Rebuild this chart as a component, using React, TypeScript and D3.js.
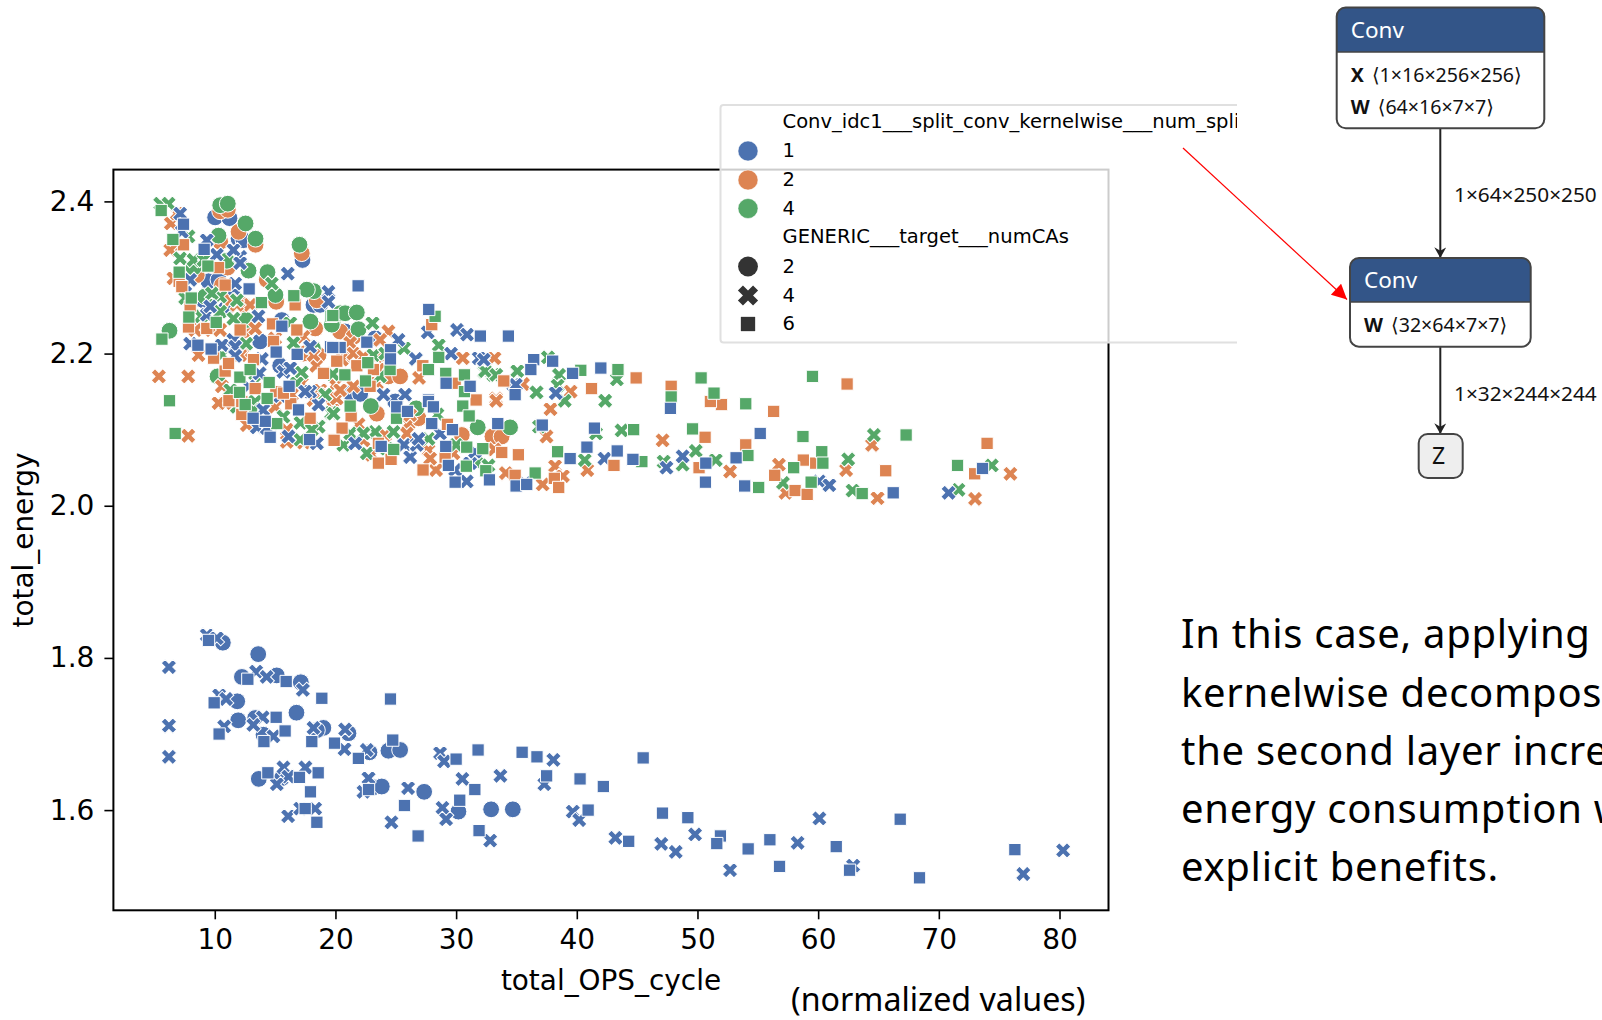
import React, { useEffect, useRef } from 'react';
import * as d3 from 'd3';

type Pt = [number, number];

const xTicks = [10, 20, 30, 40, 50, 60, 70, 80];
const yTicks = [1.6, 1.8, 2.0, 2.2, 2.4];
const colors = { blue: '#4C72B0', orange: '#DD8452', green: '#55A868' };

// numCAs = 2
const blueCircles: Pt[] = [
  [10.67, 1.82], [13.6, 1.805], [12.25, 1.775], [15.14, 1.777], [17.13, 1.768], [11.86, 1.743], [11.94, 1.718], [13.35, 1.721],
  [16.77, 1.728], [19.0, 1.708], [18.46, 1.705], [21.08, 1.701], [14.04, 1.699], [13.65, 1.641], [15.56, 1.642], [22.82, 1.676],
  [24.39, 1.678], [25.36, 1.679], [23.15, 1.63], [23.84, 1.631], [27.35, 1.624], [30.19, 1.598], [32.9, 1.601], [34.7, 1.601],
  [10.03, 2.379], [11.22, 2.378], [11.97, 2.351], [17.27, 2.323], [9.48, 2.295], [10.31, 2.297], [11.55, 2.275], [10.92, 2.259],
  [12.38, 2.349], [18.18, 2.264], [18.73, 2.264], [13.76, 2.216], [15.56, 2.244], [9.07, 2.27], [15.42, 2.184], [20.8, 2.229],
  [21.22, 2.148], [22.1, 2.147], [23.29, 2.22], [22.05, 2.147], [24.95, 2.137],
];
const orangeCircles: Pt[] = [
  [10.45, 2.387], [11.08, 2.389], [11.97, 2.36], [10.45, 2.347], [13.38, 2.343], [11.06, 2.313], [17.21, 2.332], [12.52, 2.231],
  [15.09, 2.268], [18.46, 2.27], [18.32, 2.233], [8.51, 2.303], [12.38, 2.264], [10.6, 2.29], [14.31, 2.297], [17.35, 2.2],
  [18.6, 2.198], [19.84, 2.139], [24.39, 2.17], [25.36, 2.17], [20.39, 2.229], [20.66, 2.195], [21.49, 2.222], [33.01, 2.091],
  [30.47, 2.093], [23.43, 2.121], [26.88, 2.115], [33.77, 2.091],
];
const greenCircles: Pt[] = [
  [10.45, 2.395], [11.08, 2.397], [12.55, 2.371], [10.31, 2.355], [13.38, 2.351], [11.0, 2.322], [12.8, 2.309], [14.37, 2.307],
  [17.02, 2.343], [18.21, 2.282], [17.63, 2.284], [8.24, 2.313], [9.2, 2.275], [12.6, 2.244], [15.03, 2.277], [17.93, 2.242],
  [19.78, 2.242], [20.39, 2.253], [6.25, 2.23], [10.23, 2.17], [18.13, 2.207], [20.8, 2.253], [21.91, 2.232], [21.77, 2.254],
  [19.7, 2.238], [22.93, 2.131], [26.69, 2.128], [31.79, 2.103], [34.47, 2.103],
];

// numCAs = 4
const blueCrosses: Pt[] = [
  [6.2, 1.788], [6.2, 1.711], [6.2, 1.67], [9.34, 1.83], [10.17, 1.826], [13.43, 1.782], [14.3, 1.775], [17.3, 1.758], [10.36, 1.751],
  [10.94, 1.746], [13.98, 1.722], [13.2, 1.712], [14.86, 1.697], [10.78, 1.71], [18.18, 1.708], [20.8, 1.706], [20.75, 1.68],
  [22.6, 1.679], [15.69, 1.656], [17.51, 1.656], [16.1, 1.644], [15.14, 1.634], [16.08, 1.592], [17.08, 1.602], [18.32, 1.602],
  [22.74, 1.642], [22.32, 1.624], [26.02, 1.629], [24.64, 1.584], [28.67, 1.675], [29.0, 1.664], [30.52, 1.641], [33.67, 1.645],
  [28.87, 1.603], [29.17, 1.588], [32.82, 1.56], [38.06, 1.666], [37.31, 1.634], [39.67, 1.598], [40.2, 1.587], [43.2, 1.5635],
  [47.0, 1.5556], [48.2, 1.545], [49.8, 1.568], [52.7, 1.521], [58.3, 1.557], [60.1, 1.589], [62.9, 1.527], [77.0, 1.516], [80.3, 1.547],
  [16.05, 2.305], [11.69, 2.292], [13.62, 2.249], [9.34, 2.349], [7.13, 2.384], [12.1, 2.327], [9.34, 2.251], [7.55, 2.29], [19.42, 2.281],
  [11.55, 2.218], [10.59, 2.211], [13.9, 2.193], [13.71, 2.174], [18.6, 2.133], [14.01, 2.126], [17.9, 2.15], [11.69, 2.198], [12.8, 2.157],
  [13.49, 2.103], [26.66, 2.193], [27.65, 2.228], [30.08, 2.231], [30.91, 2.225], [31.88, 2.194], [29.58, 2.2], [25.77, 2.146], [23.98, 2.146],
  [25.22, 2.218], [34.75, 2.159], [25.69, 2.08], [21.63, 2.082], [26.19, 2.064], [26.74, 2.08], [30.88, 2.032], [29.92, 2.047],
  [34.95, 2.159], [38.26, 2.148], [32.29, 2.192], [35.69, 2.03], [42.29, 2.062], [47.43, 2.05], [48.77, 2.065], [60.1, 2.032], [60.93, 2.027], [70.81, 2.017],
  [7.96, 2.297], [10.17, 2.33], [11.55, 2.336], [12.1, 2.319], [7.27, 2.36], [9.62, 2.262], [7.96, 2.213], [19.42, 2.268], [11.69, 2.209], [11.69, 2.197],
  [15.69, 2.176], [17.9, 2.209], [16.11, 2.091], [18.46, 2.082], [17.49, 2.15], [16.25, 2.181], [15.42, 2.144], [14.31, 2.102], [26.88, 2.088], [28.67, 2.095],
  [31.16, 2.056], [31.57, 2.071],
];
const orangeCrosses: Pt[] = [
  [5.37, 2.17], [7.8, 2.17], [7.8, 2.092], [10.83, 2.135], [10.31, 2.135], [18.4, 2.184], [15.0, 2.13], [12.66, 2.106], [15.97, 2.1], [15.97, 2.084],
  [17.21, 2.161], [8.65, 2.198], [12.38, 2.2], [17.35, 2.083], [6.36, 2.371], [7.13, 2.343], [6.86, 2.384], [8.79, 2.235], [24.39, 2.229], [20.53, 2.192],
  [26.93, 2.168], [30.55, 2.194], [33.12, 2.194], [35.5, 2.159], [33.31, 2.141], [23.7, 2.218], [33.31, 2.138], [21.91, 2.107], [23.01, 2.067], [27.71, 2.073],
  [28.34, 2.047], [34.11, 2.042], [26.05, 2.108], [33.13, 2.073], [24.12, 2.093], [19.84, 2.139], [33.32, 2.138], [37.82, 2.127], [35.54, 2.16], [39.48, 2.15],
  [33.17, 2.194], [47.11, 2.086], [37.49, 2.091], [33.17, 2.074], [34.12, 2.043], [38.2, 2.052], [37.17, 2.028], [40.87, 2.047], [56.75, 2.054], [52.7, 2.045],
  [64.47, 2.08], [62.32, 2.047], [64.92, 2.01], [73.0, 2.009], [75.93, 2.042], [57.29, 2.017], [38.85, 2.039],
  [6.31, 2.336], [8.38, 2.231], [9.76, 2.231], [10.45, 2.231], [12.93, 2.264], [11.83, 2.264], [13.35, 2.233], [15.0, 2.22], [17.35, 2.222], [6.58, 2.299],
  [11.28, 2.27], [10.59, 2.157], [12.1, 2.198], [18.18, 2.198], [18.73, 2.152], [16.39, 2.146], [19.29, 2.146], [20.11, 2.141], [18.18, 2.139], [23.43, 2.196],
  [21.22, 2.214], [21.49, 2.2], [22.32, 2.196], [23.56, 2.179], [23.43, 2.161], [21.49, 2.157], [19.97, 2.159], [20.39, 2.152], [22.32, 2.086], [25.91, 2.095],
  [26.19, 2.119], [27.85, 2.062], [29.78, 2.069],
];
const greenCrosses: Pt[] = [
  [12.6, 2.213], [16.52, 2.214], [17.21, 2.175], [19.75, 2.173], [19.64, 2.122], [17.1, 2.109], [18.6, 2.104], [13.2, 2.135], [10.45, 2.2], [7.82, 2.354],
  [7.13, 2.325], [14.73, 2.292], [8.87, 2.249], [5.48, 2.397], [6.17, 2.397], [23.07, 2.24], [23.15, 2.198], [25.69, 2.207], [28.56, 2.211], [32.32, 2.176],
  [35.03, 2.176], [19.78, 2.173], [33.09, 2.172], [28.45, 2.12], [23.29, 2.097], [20.66, 2.08], [27.71, 2.088], [30.0, 2.08], [31.71, 2.056], [32.68, 2.053],
  [19.84, 2.121], [32.4, 2.177], [35.07, 2.177], [37.61, 2.195], [38.53, 2.172], [33.32, 2.172], [36.66, 2.149], [39.0, 2.138], [42.35, 2.138], [38.41, 2.158],
  [36.87, 2.104], [43.71, 2.099], [40.66, 2.06], [47.2, 2.058], [48.77, 2.054], [49.86, 2.072], [51.52, 2.06], [57.08, 2.03], [62.49, 2.061], [64.62, 2.093],
  [62.85, 2.02], [71.63, 2.021], [74.39, 2.053], [41.6, 2.095], [43.32, 2.166],
  [8.24, 2.323], [9.07, 2.323], [10.45, 2.275], [9.76, 2.279], [7.55, 2.273], [10.45, 2.255], [11.55, 2.246], [16.25, 2.24], [11.83, 2.27], [11.28, 2.152],
  [13.35, 2.137], [13.21, 2.126], [14.73, 2.108], [11.83, 2.13], [15.69, 2.117], [18.04, 2.1], [13.35, 2.163], [16.8, 2.161], [19.15, 2.146], [17.08, 2.087],
  [10.59, 2.198], [24.12, 2.2], [23.7, 2.17], [22.6, 2.069], [24.25, 2.075], [24.81, 2.097], [21.22, 2.095], [22.32, 2.095],
];

// numCAs = 6
const blueSquares: Pt[] = [
  [9.48, 1.823], [12.74, 1.772], [15.92, 1.769], [18.87, 1.747], [24.56, 1.746], [9.95, 1.741], [15.09, 1.722], [15.83, 1.704], [10.36, 1.7], [14.07, 1.69],
  [18.04, 1.69], [19.92, 1.688], [24.75, 1.692], [21.9, 1.668], [14.4, 1.649], [17.02, 1.643], [18.57, 1.649], [17.93, 1.624], [17.49, 1.602], [18.46, 1.584],
  [22.74, 1.627], [25.72, 1.606], [26.85, 1.566], [30.0, 1.667], [31.82, 1.679], [35.47, 1.676], [36.7, 1.67], [37.5, 1.645], [40.27, 1.641], [31.55, 1.627],
  [30.3, 1.613], [31.9, 1.573], [40.94, 1.6], [42.2, 1.631], [45.5, 1.6686], [47.1, 1.596], [49.2, 1.59], [51.9, 1.566], [51.6, 1.556], [44.3, 1.559], [54.2, 1.549],
  [56.0, 1.561], [56.8, 1.526], [61.5, 1.552], [62.6, 1.521], [66.8, 1.588], [68.4, 1.511], [76.3, 1.548],
  [7.41, 2.37], [9.12, 2.337], [12.85, 2.285], [15.56, 2.236], [8.6, 2.211], [9.7, 2.206], [15.09, 2.202], [16.83, 2.199], [19.59, 2.209], [16.16, 2.157],
  [16.94, 2.126], [14.18, 2.111], [13.18, 2.115], [14.59, 2.09], [17.85, 2.087], [21.88, 2.289], [27.73, 2.258], [32.01, 2.223], [34.33, 2.223], [22.6, 2.215],
  [24.56, 2.205], [24.56, 2.193], [20.39, 2.208], [19.78, 2.208], [29.17, 2.161], [31.16, 2.157], [27.71, 2.139], [34.89, 2.146], [25.08, 2.13], [25.97, 2.124],
  [27.71, 2.137], [28.12, 2.13], [27.98, 2.108], [29.7, 2.1], [33.45, 2.108], [23.79, 2.078], [29.14, 2.078], [29.36, 2.053], [32.76, 2.034], [29.92, 2.031],
  [34.97, 2.026], [35.85, 2.028], [36.43, 2.192], [38.0, 2.19], [36.19, 2.179], [39.65, 2.174], [41.99, 2.181], [37.14, 2.106], [41.46, 2.102], [40.84, 2.077],
  [39.45, 2.062], [43.35, 2.072], [44.65, 2.061], [47.76, 2.128], [55.2, 2.095], [53.2, 2.063], [50.69, 2.056], [50.66, 2.031], [53.91, 2.026], [66.22, 2.017], [73.62, 2.049],
];
const orangeSquares: Pt[] = [
  [10.86, 2.177], [11.17, 2.138], [12.24, 2.137], [12.24, 2.12], [15.06, 2.15], [16.3, 2.134], [19.84, 2.087], [14.87, 2.216], [7.05, 2.295], [7.82, 2.235],
  [14.78, 2.239], [10.31, 2.313], [7.96, 2.262], [16.66, 2.264], [7.41, 2.343], [10.86, 2.29], [27.98, 2.238], [27.24, 2.184], [29.92, 2.161], [33.95, 2.164],
  [21.77, 2.184], [23.15, 2.179], [22.87, 2.157], [31.66, 2.139], [21.3, 2.118], [20.55, 2.102], [19.89, 2.086], [29.28, 2.107], [35.16, 2.067], [27.26, 2.047],
  [24.61, 2.061], [29.09, 2.064], [34.89, 2.04], [23.56, 2.082], [23.56, 2.056], [33.78, 2.07], [41.22, 2.154], [44.92, 2.168], [47.82, 2.157], [62.4, 2.16],
  [51.99, 2.133], [51.07, 2.137], [56.31, 2.124], [50.63, 2.09], [54.0, 2.08], [38.14, 2.036], [38.5, 2.024], [43.08, 2.053], [58.77, 2.06], [59.8, 2.056],
  [56.4, 2.04], [58.09, 2.02], [59.09, 2.015], [65.6, 2.046], [74.0, 2.082], [72.97, 2.042], [50.13, 2.05],
  [7.27, 2.288], [12.1, 2.231], [16.8, 2.231], [9.34, 2.233], [9.9, 2.194], [11.14, 2.187], [13.35, 2.154], [13.21, 2.192], [19.01, 2.174], [20.11, 2.19],
  [15.69, 2.148], [17.9, 2.115],
];
const greenSquares: Pt[] = [
  [5.56, 2.388], [6.53, 2.35], [7.05, 2.307], [8.05, 2.273], [7.85, 2.248], [9.43, 2.315], [10.12, 2.241], [13.87, 2.267], [16.55, 2.276], [19.64, 2.249],
  [5.62, 2.219], [6.25, 2.138], [6.72, 2.095], [12.08, 2.169], [12.05, 2.149], [14.51, 2.162], [14.34, 2.141], [15.14, 2.108], [12.93, 2.179], [12.52, 2.133],
  [28.26, 2.249], [28.56, 2.195], [22.68, 2.188], [20.78, 2.172], [22.49, 2.164], [29.14, 2.174], [30.69, 2.172], [30.69, 2.15], [19.78, 2.25], [27.71, 2.179],
  [24.53, 2.179], [21.22, 2.131], [25.06, 2.115], [30.55, 2.131], [31.08, 2.118], [30.88, 2.077], [32.21, 2.075], [24.83, 2.074], [30.85, 2.052], [32.46, 2.046],
  [40.33, 2.178], [43.41, 2.179], [50.3, 2.168], [59.53, 2.17], [47.82, 2.143], [51.37, 2.148], [54.0, 2.134], [44.71, 2.1], [49.59, 2.101], [58.74, 2.091],
  [67.29, 2.093], [38.41, 2.071], [45.39, 2.058], [54.18, 2.066], [60.3, 2.071], [71.55, 2.053], [36.55, 2.043], [57.97, 2.05], [55.07, 2.024], [63.65, 2.016], [59.42, 2.031], [60.39, 2.056],
];

const hueLabels = ['1', '2', '4'];
const styleLabels = ['2', '4', '6'];
const noteLines = ['In this case, applying', 'kernelwise decompos', 'the second layer incre', 'energy consumption w', 'explicit benefits.'];

const W = 1602;
const H = 1020;
const frame = { left: 113.4, right: 1108.5, top: 169.6, bottom: 910.3 };
const chartFont = '"DejaVu Sans", sans-serif';
const graphFont = '"Noto Sans", "DejaVu Sans", sans-serif';
const slideFont = '"Noto Sans", sans-serif';

const App = () => {
  const ref = useRef<SVGSVGElement>(null);

  useEffect(() => {
    const svg = d3.select(ref.current);
    svg.selectAll('*').remove();

    const x = d3.scaleLinear().domain([1.6, 84.06]).range([frame.left, frame.right]);
    const y = d3.scaleLinear().domain([1.4683, 2.4418]).range([frame.bottom, frame.top]);

    const circle = d3.symbol().type(d3.symbolCircle).size(222)();
    const cross = d3.symbol().type(d3.symbolCross).size(150)();
    const square = d3.symbol().type(d3.symbolSquare).size(152)();

    const plot = svg.append('g');

    const series: [Pt[], string, string, number][] = [
      [blueCircles, colors.blue, circle, 0],
      [orangeCircles, colors.orange, circle, 0],
      [greenCircles, colors.green, circle, 0],
      [orangeCrosses, colors.orange, cross, 45],
      [greenCrosses, colors.green, cross, 45],
      [blueCrosses, colors.blue, cross, 45],
      [orangeSquares, colors.orange, square, 0],
      [greenSquares, colors.green, square, 0],
      [blueSquares, colors.blue, square, 0],
    ];
    series.forEach(([pts, fill, d, rot]) => {
      plot.append('g')
        .selectAll('path')
        .data(pts)
        .join('path')
        .attr('d', d)
        .attr('transform', p => `translate(${x(p[0])},${y(p[1])}) rotate(${rot})`)
        .attr('fill', fill)
        .attr('stroke', '#fff')
        .attr('stroke-width', 1);
    });

    // frame + axes
    svg.append('rect')
      .attr('x', frame.left).attr('y', frame.top)
      .attr('width', frame.right - frame.left).attr('height', frame.bottom - frame.top)
      .attr('fill', 'none').attr('stroke', '#000').attr('stroke-width', 2);

    const xAxis = svg.append('g')
      .attr('transform', `translate(0,${frame.bottom})`)
      .call(d3.axisBottom(x).tickValues(xTicks).tickSize(9).tickPadding(10).tickFormat(d3.format('d')));
    const yAxis = svg.append('g')
      .attr('transform', `translate(${frame.left},0)`)
      .call(d3.axisLeft(y).tickValues(yTicks).tickSize(9).tickPadding(10).tickFormat(d3.format('.1f')));
    [xAxis, yAxis].forEach(a => {
      a.select('.domain').remove();
      a.selectAll('line').attr('stroke', '#000').attr('stroke-width', 1.6);
      a.selectAll('text').attr('font-family', chartFont).attr('font-size', 28).attr('fill', '#000');
    });

    svg.append('text').text('total_OPS_cycle')
      .attr('x', 611).attr('y', 990).attr('text-anchor', 'middle')
      .attr('font-family', chartFont).attr('font-size', 27.9);
    svg.append('text').text('total_energy')
      .attr('transform', 'translate(33,540) rotate(-90)').attr('text-anchor', 'middle')
      .attr('font-family', chartFont).attr('font-size', 27.9);

    // legend, cut off at the right edge of the pasted plot image
    svg.append('clipPath').attr('id', 'legend-clip')
      .append('rect').attr('x', 700).attr('y', 90).attr('width', 537).attr('height', 270);
    const legend = svg.append('g').attr('clip-path', 'url(#legend-clip)');
    legend.append('rect')
      .attr('x', 720.5).attr('y', 105).attr('width', 600).attr('height', 237.5).attr('rx', 3)
      .attr('fill', '#fff').attr('fill-opacity', 0.8)
      .attr('stroke', '#e0e0e0').attr('stroke-width', 2);

    const legendX = 748;
    const textX = 782.5;
    const legendText = (t: string, yy: number) => legend.append('text').text(t)
      .attr('x', textX).attr('y', yy + 6.3).attr('font-family', chartFont).attr('font-size', 19.55).attr('fill', '#000');

    legendText('Conv_idc1___split_conv_kernelwise___num_splits', 121.6);
    const hueRows = [151, 180, 208.5];
    const hueColors = [colors.blue, colors.orange, colors.green];
    hueLabels.forEach((t, i) => {
      legend.append('circle').attr('cx', legendX).attr('cy', hueRows[i]).attr('r', 10)
        .attr('fill', hueColors[i]).attr('stroke', '#fff').attr('stroke-width', 0.5);
      legendText(t, hueRows[i]);
    });
    legendText('GENERIC___target___numCAs', 237);
    const styleRows = [266.5, 295.5, 324];
    const stylePaths = [
      d3.symbol().type(d3.symbolCircle).size(310)(),
      d3.symbol().type(d3.symbolCross).size(255)(),
      d3.symbol().type(d3.symbolSquare).size(205)(),
    ];
    styleLabels.forEach((t, i) => {
      legend.append('path').attr('d', stylePaths[i])
        .attr('transform', `translate(${legendX},${styleRows[i]}) rotate(${i === 1 ? 45 : 0})`)
        .attr('fill', '#333');
      legendText(t, styleRows[i]);
    });

    // red pointer
    const defs = svg.append('defs');
    defs.append('marker').attr('id', 'red-head').attr('viewBox', '0 0 10 10')
      .attr('refX', 10).attr('refY', 5).attr('markerWidth', 18).attr('markerHeight', 15)
      .attr('markerUnits', 'userSpaceOnUse').attr('orient', 'auto')
      .append('path').attr('d', 'M0,0L10,5L0,10Z').attr('fill', '#f00');
    svg.append('line')
      .attr('x1', 1183).attr('y1', 148).attr('x2', 1347).attr('y2', 299.5)
      .attr('stroke', '#f00').attr('stroke-width', 1.2).attr('marker-end', 'url(#red-head)');

    // onnx graph on the right
    defs.append('marker').attr('id', 'black-head').attr('viewBox', '0 0 10 10')
      .attr('refX', 9).attr('refY', 5).attr('markerWidth', 12).attr('markerHeight', 12)
      .attr('markerUnits', 'userSpaceOnUse').attr('orient', 'auto')
      .append('path').attr('d', 'M0,0L9,5L0,10L3,5Z').attr('fill', '#222');

    const graphBox = (x0: number, x1: number, y0: number, yHead: number, y1: number, rows: [string, string, number][]) => {
      const r = 9;
      const g = svg.append('g');
      g.append('rect').attr('x', x0).attr('y', y0).attr('width', x1 - x0).attr('height', y1 - y0).attr('rx', r)
        .attr('fill', '#fff');
      g.append('path')
        .attr('d', `M${x0},${yHead}V${y0 + r}Q${x0},${y0} ${x0 + r},${y0}H${x1 - r}Q${x1},${y0} ${x1},${y0 + r}V${yHead}Z`)
        .attr('fill', '#335588');
      g.append('rect').attr('x', x0).attr('y', y0).attr('width', x1 - x0).attr('height', y1 - y0).attr('rx', r)
        .attr('fill', 'none').attr('stroke', '#444').attr('stroke-width', 2);
      g.append('line').attr('x1', x0).attr('x2', x1).attr('y1', yHead).attr('y2', yHead)
        .attr('stroke', '#444').attr('stroke-width', 1.4);
      g.append('text').text('Conv').attr('x', x0 + 14).attr('y', y0 + 30)
        .attr('font-family', graphFont).attr('font-size', 22.5).attr('fill', '#fff');
      rows.forEach(([k, v, yy]) => {
        const t = g.append('text').attr('x', x0 + 14).attr('y', yy)
          .attr('font-family', graphFont).attr('font-size', 19.6).attr('fill', '#111');
        t.append('tspan').text(k).attr('font-weight', 700);
        t.append('tspan').text(` ${v}`).attr('dx', 3);
      });
    };

    const edge = (yy0: number, yy1: number, label: string, labelY: number) => {
      svg.append('line').attr('x1', 1440.3).attr('x2', 1440.3).attr('y1', yy0).attr('y2', yy1)
        .attr('stroke', '#222').attr('stroke-width', 2).attr('marker-end', 'url(#black-head)');
      svg.append('text').text(label).attr('x', 1454).attr('y', labelY)
        .attr('font-family', graphFont).attr('font-size', 20.8).attr('fill', '#111');
    };

    edge(128, 258, '1×64×250×250', 202);
    edge(347, 434, '1×32×244×244', 400.5);
    graphBox(1336.7, 1544.3, 7.5, 52, 128.3, [['X', '⟨1×16×256×256⟩', 81.5], ['W', '⟨64×16×7×7⟩', 113.5]]);
    graphBox(1350, 1530.7, 258, 302, 346.7, [['W', '⟨32×64×7×7⟩', 331.5]]);
    svg.append('rect').attr('x', 1418.7).attr('y', 434).attr('width', 44).attr('height', 44).attr('rx', 9)
      .attr('fill', '#eee').attr('stroke', '#444').attr('stroke-width', 2);
    svg.append('text').text('Z').attr('x', 1438.5).attr('y', 464).attr('text-anchor', 'middle')
      .attr('font-family', graphFont).attr('font-size', 23).attr('fill', '#111');

    // slide text
    const baselines = [648, 706.7, 765, 822.7, 880.7];
    noteLines.forEach((t, i) => {
      svg.append('text').text(t).attr('x', 1181).attr('y', baselines[i])
        .attr('font-family', slideFont).attr('font-size', 40).attr('letter-spacing', 0.7).attr('fill', '#000');
    });
    svg.append('text').text('(normalized values)').attr('x', 791).attr('y', 1010.5)
      .attr('font-family', slideFont).attr('font-size', 32.2).attr('fill', '#000');
  }, []);

  return (
    <svg ref={ref} width={W} height={H}
      style={{ position: 'absolute', left: 0, top: 0, display: 'block', background: '#fff' }} />
  );
};

export default App;
